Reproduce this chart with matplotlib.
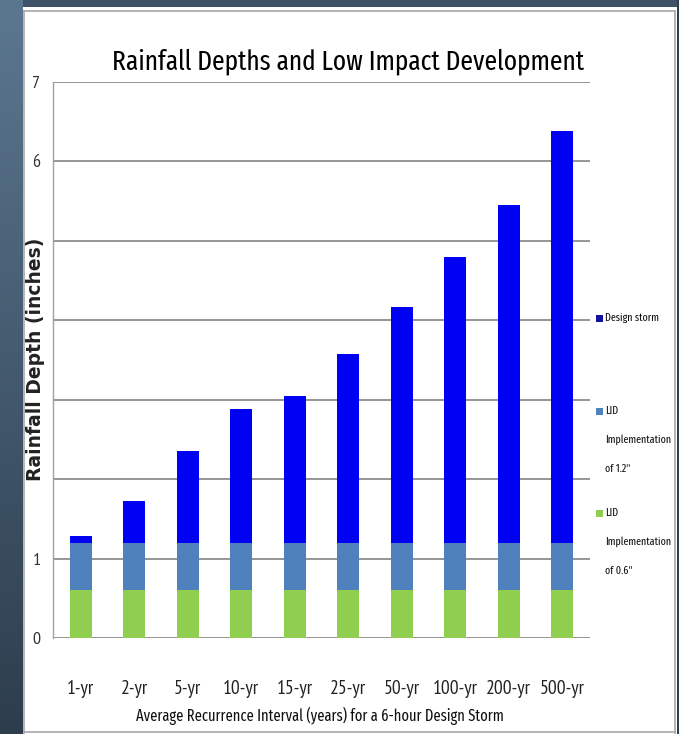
import matplotlib
matplotlib.use("Agg")
import matplotlib.pyplot as plt
import numpy as np
from matplotlib.patches import Rectangle
from matplotlib.lines import Line2D
from matplotlib.colors import LinearSegmentedColormap

# ---------------- data ----------------
categories = ["1-yr", "2-yr", "5-yr", "10-yr", "15-yr", "25-yr", "50-yr", "100-yr", "200-yr", "500-yr"]
lid_06 = [0.6] * 10                      # LID implementation of 0.6"
lid_12 = [0.6] * 10                      # additional layer up to 1.2"
design_storm = [0.09, 0.52, 1.16, 1.68, 1.85, 2.37, 2.97, 3.60, 4.25, 5.18]  # remainder above 1.2"
series_names = ["Design storm", "LID\nImplementation\nof 1.2\"", "LID\nImplementation\nof 0.6\""]
y_ticks = [0, 1, 2, 3, 4, 5, 6, 7]
y_ticklabels = ["0", "1", "", "", "", "", "6", "7"]

title = "Rainfall Depths and Low Impact Development"
xlabel = "Average Recurrence Interval (years) for a 6-hour Design Storm"
ylabel = "Rainfall Depth (inches)"

c_storm = "#0000F2"
c_storm_leg = "#12129E"
c_lid12 = "#4F81BD"
c_lid06 = "#8FCE4E"
grid_c = "#8E8E8E"

NARROW = ["PT Sans Narrow", "Open Sans Condensed", "DejaVu Sans"]
XNARROW = ["Fira Sans Extra Condensed", "PT Sans Narrow", "DejaVu Sans"]
BOLD = ["DejaVu Sans"]

W, H = 679, 734
fig = plt.figure(figsize=(W / 100, H / 100), dpi=100)
fig.patch.set_facecolor("white")

def fx(px):
    return px / W

def fy(py):
    return 1 - py / H

# slide background: left gradient strip, top and right strips
bg = fig.add_axes([0, 0, fx(23), 1])
grad = np.linspace(0, 1, 256).reshape(-1, 1)
cmap = LinearSegmentedColormap.from_list("g", ["#5B7790", "#2D3D4D"])
bg.imshow(grad, aspect="auto", cmap=cmap, extent=[0, 1, 0, 1], origin="upper")
bg.set_axis_off()
fig.patches.append(Rectangle((fx(23), fy(7)), 1, 1, transform=fig.transFigure,
                             facecolor="#3E5368", edgecolor="none", zorder=0))
fig.patches.append(Rectangle((fx(677), 0), 1, 1, transform=fig.transFigure,
                             facecolor="#2F3E52", edgecolor="none", zorder=0))
# panel border
for (x0, y0, x1, y1) in [(24, 11, 675, 11), (24, 11, 24, 733), (675, 11, 675, 733), (24, 732, 675, 732)]:
    fig.lines.append(Line2D([fx(x0), fx(x1)], [fy(y0), fy(y1)], transform=fig.transFigure,
                            color="#A8A8A8", lw=1.2))

# ---------------- chart ----------------
ax = fig.add_axes([fx(53), fy(638), fx(590) - fx(53), fy(82) - fy(638)])
x = np.arange(len(categories))
bw = 0.41
ax.bar(x, lid_06, bw, color=c_lid06, zorder=3)
ax.bar(x, lid_12, bw, bottom=lid_06, color=c_lid12, zorder=3)
base2 = np.array(lid_06) + np.array(lid_12)
ax.bar(x, design_storm, bw, bottom=base2, color=c_storm, zorder=3)

ax.set_xlim(-0.52, len(categories) - 0.48)
ax.set_ylim(0, 7)
ax.set_yticks(y_ticks)
ax.set_yticklabels(y_ticklabels, fontfamily=NARROW, fontsize=13, color="#333333")
ax.set_xticks(x)
ax.set_xticklabels(categories, fontfamily=NARROW, fontsize=14, color="#222222")
ax.tick_params(axis="both", length=0)
ax.tick_params(axis="y", pad=9)
ax.tick_params(axis="x", pad=30)
ax.yaxis.grid(True, color=grid_c, lw=1.3, zorder=1)
ax.set_axisbelow(True)
for s in ["top", "right", "bottom"]:
    ax.spines[s].set_visible(False)
ax.spines["left"].set_color("#A0A0A0")
ax.spines["left"].set_linewidth(1.0)

# axis labels
xl = fig.text(fx(320), fy(716), xlabel, ha="center", va="center",
              fontfamily=XNARROW, fontsize=14, color="#111111")
yl = fig.text(fx(36), fy(359), ylabel, ha="center", va="center", rotation=90,
              fontfamily=BOLD, fontweight="bold", fontsize=13.5, color="#222222")

# title
t = fig.text(fx(348), fy(69), title, ha="center", va="baseline",
             fontfamily=XNARROW, fontsize=24, color="black")

# legend (manual, Excel-style with wrapped labels)
leg_colors = [c_storm_leg, c_lid12, c_lid06]
leg_y = [318, 411, 513]
leg_texts = []
for name, col, yy in zip(series_names, leg_colors, leg_y):
    fig.patches.append(Rectangle((fx(596), fy(yy + 4)), fx(7), 7 / H, transform=fig.transFigure,
                                 facecolor=col, edgecolor="none"))
    for i, ln in enumerate(name.split("\n")):
        leg_texts.append(fig.text(fx(605), fy(yy + i * 29), ln, ha="left", va="center",
                                  fontfamily=XNARROW, fontsize=11, color="#111111"))

# fit text widths to the reference
fig.canvas.draw()
def fit(txt, target):
    cur = txt.get_window_extent().width
    return txt.get_fontsize() * target / cur
t.set_fontsize(fit(t, 472))
xl.set_fontsize(fit(xl, 368))
widest = max(leg_texts, key=lambda tt: tt.get_window_extent().width)
fs_leg = fit(widest, 66)
for tt in leg_texts:
    tt.set_fontsize(fs_leg)

fig.savefig("out.png", dpi=100)
